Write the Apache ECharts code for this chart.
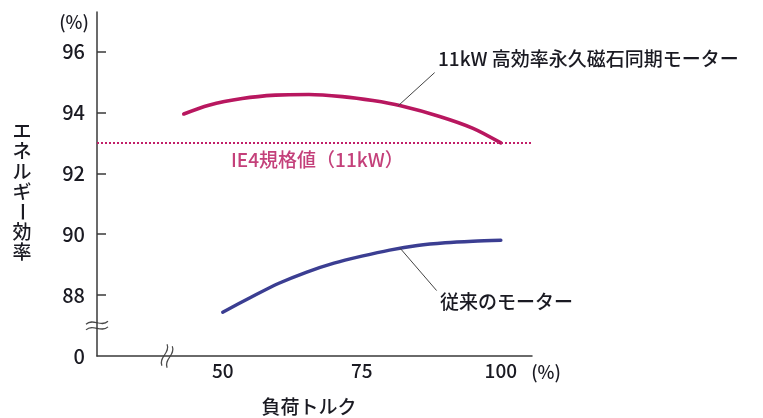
<!DOCTYPE html>
<html>
<head>
<meta charset="utf-8">
<script src="https://cdn.jsdelivr.net/npm/echarts@6/dist/echarts.min.js"></script>
<style>
  html, body { margin: 0; padding: 0; background: #ffffff; }
  #chart { width: 763px; height: 418px; }
</style>
</head>
<body>
<div id="chart"></div>
<script>
// Load torque (%) and efficiency (%) of the 11kW permanent-magnet motor
const pmLoad = [43, 47.5, 53.5, 59.5, 65.5, 71.5, 77, 82, 89, 95, 100];
const pmEff  = [93.95, 94.24, 94.46, 94.57, 94.59, 94.52, 94.39, 94.22, 93.87, 93.48, 93.0];

// Load torque (%) and efficiency (%) of the conventional motor
const stdLoad = [50, 55, 60, 65, 70, 75, 80, 85, 90, 95, 100];
const stdEff  = [87.44, 87.92, 88.38, 88.75, 89.05, 89.28, 89.48, 89.63, 89.72, 89.77, 89.8];

// IE4 efficiency requirement for 11kW
const ie4Level = 93;

// Axis ticks; the bottom of the broken efficiency axis is labelled 0
const xTickValues = [50, 75, 100];
const xTickLabels = ['50', '75', '100'];
const yTickValues = [86, 88, 90, 92, 94, 96];
const yTickLabels = ['0', '88', '90', '92', '94', '96'];

// Leader lines from the curves to their captions (load %, efficiency %)
const pmLeader  = [[81.55, 94.22], [88.1, 95.31]];
const stdLeader = [[81.85, 89.55], [88.45, 88.15]];

const pmName  = '11kW 高効率永久磁石同期モーター';
const stdName = '従来のモーター';
const ie4Name = 'IE4規格値（11kW）';
const xName = '負荷トルク';
const yName = 'エネルギー効率';

const FONT = '"Noto Sans CJK JP", "Noto Sans", sans-serif';
const WEIGHT = 500;
const TEXT = '#1a1a22';
const AXIS = '#3a3a3a';
const MAGENTA = '#b8175f';
const PINK_TEXT = '#c4407a';
const BLUE = '#3b3e92';

const chart = echarts.init(document.getElementById('chart'), null, { renderer: 'canvas' });

const zip = (xs, ys) => xs.map((x, i) => [x, ys[i]]);

chart.setOption({
  animation: false,
  backgroundColor: '#ffffff',
  grid: { left: 97, right: 231, top: 12, bottom: 62, containLabel: false },
  xAxis: {
    type: 'value',
    min: 27.4,
    max: 105.6,
    splitLine: { show: false },
    axisLine: { show: true, lineStyle: { color: AXIS, width: 1.5 } },
    axisTick: { show: false },
    axisLabel: {
      customValues: xTickValues,
      margin: 5,
      fontFamily: FONT,
      fontWeight: WEIGHT,
      fontSize: 19,
      color: TEXT,
      formatter: v => xTickLabels[xTickValues.indexOf(v)] ?? ''
    }
  },
  yAxis: {
    type: 'value',
    min: 86,
    max: 97.3,
    splitLine: { show: false },
    axisLine: { show: true, lineStyle: { color: AXIS, width: 1.5 } },
    axisTick: {
      show: true,
      inside: true,
      length: 9,
      customValues: yTickValues.slice(1),
      lineStyle: { color: AXIS, width: 1.5 }
    },
    axisLabel: {
      customValues: yTickValues,
      margin: 12,
      fontFamily: FONT,
      fontWeight: WEIGHT,
      fontSize: 20,
      color: TEXT,
      formatter: v => yTickLabels[yTickValues.indexOf(v)] ?? ''
    }
  },
  series: [
    {
      name: pmName,
      type: 'line',
      data: zip(pmLoad, pmEff),
      smooth: 0.3,
      showSymbol: false,
      lineStyle: { color: MAGENTA, width: 3.6, cap: 'round' },
      markLine: {
        silent: true,
        symbol: 'none',
        label: { show: false },
        data: [
          { yAxis: ie4Level, lineStyle: { color: '#c21f68', width: 2.2, type: [2, 2] } },
          [
            { coord: pmLeader[0], lineStyle: { color: '#444', width: 1, type: 'solid' } },
            { coord: pmLeader[1] }
          ]
        ]
      }
    },
    {
      name: stdName,
      type: 'line',
      data: zip(stdLoad, stdEff),
      smooth: 0.3,
      showSymbol: false,
      lineStyle: { color: BLUE, width: 3.4, cap: 'round' },
      markLine: {
        silent: true,
        symbol: 'none',
        label: { show: false },
        data: [
          [
            { coord: stdLeader[0], lineStyle: { color: '#444', width: 1, type: 'solid' } },
            { coord: stdLeader[1] }
          ]
        ]
      }
    }
  ]
});

// Axis-break marks (≈) drawn where the two axes are interrupted
function breakMark(x, y, rotation) {
  const wave = dy => ({
    type: 'bezierCurve',
    shape: { x1: -11, y1: dy + 1.5, cpx1: -4, cpy1: dy - 5, cpx2: 4, cpy2: dy + 5, x2: 11, y2: dy - 1.5 },
    style: { stroke: '#4a4a4a', lineWidth: 1.2, fill: null }
  });
  return {
    type: 'group', x, y, rotation, silent: true,
    children: [
      { type: 'rect', shape: { x: -12, y: -2.6, width: 24, height: 5.2 }, style: { fill: '#ffffff' } },
      wave(-2.8),
      wave(2.8)
    ]
  };
}

const yBreak = chart.convertToPixel({ gridIndex: 0 }, [27.4, 87]);
const xBreak = chart.convertToPixel({ gridIndex: 0 }, [40, 86]);

const txt = (extra, fontSize, fill) => Object.assign({ type: 'text' }, extra, {
  style: Object.assign({ fontFamily: FONT, fontWeight: WEIGHT, fontSize, fill }, extra.style)
});

// Vertical axis title, one character per line
const yTitle = Array.from(yName).map((ch, i) => txt({
  x: 22,
  y: 131 + i * 20.2,
  rotation: ch === 'ー' ? -Math.PI / 2 : 0,
  style: { text: ch, align: 'center', verticalAlign: 'middle' }
}, 19, TEXT));

chart.setOption({
  graphic: [
    breakMark(yBreak[0], yBreak[1], 0),
    breakMark(xBreak[0], xBreak[1], 1.2),
    txt({ left: 438, top: 49, style: { text: pmName } }, 19, TEXT),
    txt({ left: 440, top: 292, style: { text: stdName } }, 19, TEXT),
    txt({ left: 231, top: 150, style: { text: ie4Name } }, 19, PINK_TEXT),
    txt({ x: 74, y: 22, style: { text: '(%)', align: 'center', verticalAlign: 'middle' } }, 18, TEXT),
    txt({ x: 546, y: 372, style: { text: '(%)', align: 'center', verticalAlign: 'middle' } }, 18, TEXT),
    txt({ x: 309, y: 407, style: { text: xName, align: 'center', verticalAlign: 'middle' } }, 19, TEXT),
    ...yTitle
  ]
});
</script>
</body>
</html>
